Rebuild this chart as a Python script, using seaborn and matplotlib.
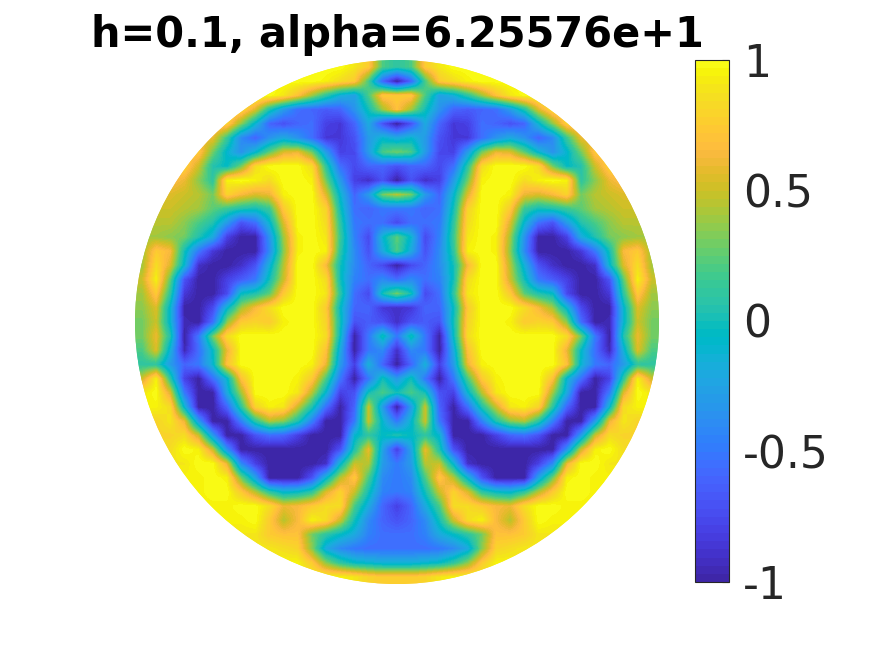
import numpy as np
import matplotlib
matplotlib.use("Agg")
import matplotlib.pyplot as plt
from matplotlib.colors import ListedColormap
from matplotlib.patches import Circle
import seaborn as sns

TITLE = "h=0.1, alpha=6.25576e+1"
CBAR_TICKS = [-1, -0.5, 0, 0.5, 1]
CBAR_LABELS = ["-1", "-0.5", "0", "0.5", "1"]

PARULA = [
[0.2422,0.1504,0.6603],[0.2504,0.1650,0.7076],[0.2578,0.1818,0.7511],[0.2647,0.1978,0.7952],
[0.2706,0.2147,0.8364],[0.2751,0.2342,0.8710],[0.2783,0.2559,0.8991],[0.2803,0.2782,0.9221],
[0.2813,0.3006,0.9414],[0.2810,0.3228,0.9579],[0.2795,0.3447,0.9717],[0.2760,0.3667,0.9829],
[0.2699,0.3892,0.9906],[0.2602,0.4123,0.9952],[0.2440,0.4358,0.9988],[0.2206,0.4603,0.9973],
[0.1963,0.4847,0.9892],[0.1834,0.5074,0.9798],[0.1786,0.5289,0.9682],[0.1764,0.5499,0.9520],
[0.1687,0.5703,0.9359],[0.1540,0.5902,0.9218],[0.1460,0.6091,0.9079],[0.1380,0.6276,0.8973],
[0.1248,0.6459,0.8883],[0.1113,0.6635,0.8763],[0.0952,0.6798,0.8598],[0.0689,0.6948,0.8394],
[0.0297,0.7082,0.8163],[0.0036,0.7203,0.7917],[0.0067,0.7312,0.7660],[0.0433,0.7411,0.7394],
[0.0964,0.7500,0.7120],[0.1408,0.7584,0.6842],[0.1717,0.7670,0.6554],[0.1938,0.7758,0.6251],
[0.2161,0.7843,0.5923],[0.2470,0.7918,0.5567],[0.2906,0.7973,0.5188],[0.3406,0.8008,0.4789],
[0.3909,0.8029,0.4354],[0.4456,0.8024,0.3909],[0.5044,0.7993,0.3480],[0.5616,0.7942,0.3045],
[0.6174,0.7876,0.2612],[0.6720,0.7793,0.2227],[0.7242,0.7698,0.1910],[0.7738,0.7598,0.1646],
[0.8203,0.7498,0.1535],[0.8634,0.7406,0.1596],[0.9035,0.7330,0.1774],[0.9393,0.7288,0.2100],
[0.9728,0.7298,0.2394],[0.9956,0.7434,0.2371],[0.9970,0.7659,0.2199],[0.9952,0.7861,0.1991],
[0.9892,0.8086,0.1816],[0.9786,0.8303,0.1655],[0.9676,0.8528,0.1490],[0.9610,0.8742,0.1291],
[0.9597,0.8986,0.1007],[0.9628,0.9265,0.0674],[0.9691,0.9555,0.0428],[0.9769,0.9839,0.0805]]

# left half of the disk, values read row by row (top to bottom); last column is the axis of symmetry
LEFT_HALF = [
[1,1,1,1,1,1,1,1,1,1,1,1,1,1,1,.9,.75,.2,.1],
[1,1,1,1,1,1,1,1,1,1,1,1,1,.95,.85,.75,.2,-.6,-1],
[1,1,1,1,1,1,1,1,1,1,.9,.7,.4,.1,-.15,-.25,.2,.75,.75],
[.85,.85,.85,.85,.85,.85,.85,.85,.55,.05,-.3,-.55,-.6,-.65,-.6,-.35,0,.4,.7],
[.8,.8,.8,.8,.8,.8,.8,.35,-.1,-.6,-.7,-.6,-.55,-.8,-.85,-.6,-.2,-.7,-1],
[.6,.6,.6,.6,.6,.6,.15,-.4,-.6,-.35,-.2,-.35,-.55,-.85,-.85,-.7,-.3,-.1,-.2],
[.75,.75,.75,.75,.75,.3,-.1,-.35,-.1,.25,.55,.6,.3,-.3,-.8,-.75,-.3,.2,.3],
[.8,.8,.8,.8,.5,.05,-.05,.3,.85,1,1,1,.85,.1,-.55,-.75,-.6,-.6,-.7],
[.7,.7,.7,.6,.35,.1,.95,1,.95,.85,1,1,.95,.3,-.3,-.8,-.9,-.7,-1],
[.55,.55,.55,.5,.45,.3,.8,.65,.55,.6,.95,1,1,.55,-.1,-.6,-.3,.3,.45],
[.5,.5,.5,.45,.4,.25,.15,.05,0,.15,.75,1,1,.8,0,-.55,-.6,-.5,-.5],
[.45,.45,.45,.35,.2,.05,-.3,-.7,-.55,-.1,.55,1,1,.85,.1,-.5,-.55,-.55,-.75],
[.4,.4,.35,.3,.05,-.2,-.8,-1,-1,-.35,.4,.95,1,.9,.15,-.45,-.75,-.1,.25],
[.4,.75,.65,0,-.5,-.85,-1,-1,-1,-.4,.35,.95,1,.95,.1,-.4,-.7,-.2,.2],
[.4,.85,.55,-.1,-.9,-1,-1,-.9,-.7,-.15,.45,1,1,.65,0,-.4,-.6,-.75,-1],
[.5,.95,.25,-.7,-1,-1,-.8,-.65,-.5,0,.5,1,1,.85,0,-.45,-.55,-.4,-.55],
[.4,.75,.1,-.85,-1,-1,-.75,-.05,.05,.25,.75,1,1,.9,.1,-.55,-.75,0,.3],
[.35,.55,-.1,-1,-1,-.75,-.1,.4,.65,.85,1,1,1,.75,-.05,-.6,-.6,-.85,-.9],
[.3,.5,-.1,-.95,-1,-.55,.35,.75,.8,.75,.95,1,1,.8,0,-.7,-.65,-.7,-.9],
[.3,.6,.05,-1,-.5,.3,.85,1,1,1,1,.97,1,.85,-.05,-1,-.5,0,-.5],
[.2,.55,-.15,-.95,-.55,-.05,.6,1,1,1,1,1,1,.7,-.2,-1,-.5,-.4,-.9],
[.1,.1,-.3,-.6,-.5,-.1,.7,1,1,1,1,1,.95,.6,-.3,-.8,-.15,-.6,-1],
[.5,.95,.1,-.8,-1,-.55,-.1,.7,1,1,1,.95,.75,.2,-.5,-1,-.5,0,-.3],
[.9,1,.55,-.5,-1,-1,-.2,.4,1,1,1,.9,.45,-.1,-.8,-.7,0,.2,0],
[.95,.95,.85,-.1,-1,-1,-.6,.1,.8,.95,.9,.5,.05,-.55,-1,-.6,.5,-.3,-1],
[.8,.8,.9,.6,-.3,-1,-1,-.45,.1,.45,.35,.05,-.45,-1,-1,-.5,.5,-.1,-.5],
[.8,.8,.8,.85,.5,-.3,-1,-1,-.7,-.55,-.6,-.8,-1,-1,-1,-.1,.1,-.05,.05],
[.85,.85,.85,1,.95,.5,-.35,-1,-1,-1,-1,-1,-1,-1,-.7,.05,.6,-.25,-.8],
[.9,.9,.9,.9,1,1,.6,-.4,-.8,-1,-1,-1,-1,-.9,-.1,.5,.45,-.3,-.5],
[.95,.95,.95,.95,.95,1,.95,.3,-.25,-1,-1,-1,-.7,-.1,.45,.75,.2,-.4,-.5],
[.95,.95,.95,.95,.95,1,1,.75,.45,.1,-.1,-.05,.1,.55,.8,.5,0,-.45,-.5],
[.95,.95,.95,.95,.95,.95,.95,1,1,.85,.6,.65,.75,.85,.85,.2,-.2,-.6,-.8],
[.95,.95,.95,.95,.95,.95,.95,.95,1,.75,.45,.65,.95,.85,.5,0,-.4,-.6,-.7],
[.9,.9,.9,.9,.9,.9,.9,.9,.9,.75,.7,.7,.3,.1,-.05,-.2,-.45,-.55,-.55],
[.9,.9,.9,.9,.9,.9,.9,.9,.9,.9,.85,.8,.35,-.2,-.4,-.5,-.55,-.55,-.55],
[.95,.95,.95,.95,.95,.95,.95,.95,.95,.95,.95,.95,.75,.35,.1,-.05,-.1,-.15,-.15],
[.95,.95,.95,.95,.95,.95,.95,.95,.95,.95,.95,.95,.95,.95,.95,.9,.8,.75,.75],
]

half = np.array(LEFT_HALF, dtype=float)
field = np.hstack([half, half[:, -2::-1]])
n_rows, n_cols = field.shape

sns.set_theme(style="white")
plt.rcParams["font.family"] = ["DejaVu Sans"]
W, H = 875, 656
fig = plt.figure(figsize=(W / 100, H / 100), dpi=100)
ax = fig.add_axes([135 / W, 1 - 584 / H, 524 / W, 524 / H])
cax = fig.add_axes([695 / W, 1 - 582 / H, 34 / W, 522 / H])

cmap = ListedColormap(PARULA, name="parula")
sns.heatmap(field, ax=ax, cbar_ax=cax, cmap=cmap, vmin=-1, vmax=1,
            xticklabels=False, yticklabels=False, cbar_kws={"ticks": CBAR_TICKS})

disk = Circle((n_cols / 2, n_rows / 2), n_cols / 2, transform=ax.transData,
              facecolor="none", edgecolor="none")
ax.add_patch(disk)
ax.collections[0].set_clip_path(disk)
im = ax.imshow(field, cmap=cmap, vmin=-1, vmax=1, interpolation="bilinear",
               extent=(0, n_cols, n_rows, 0), aspect="auto", zorder=2)
im.set_clip_path(disk)
ax.set_xlim(0, n_cols)
ax.set_ylim(n_rows, 0)
for s in ax.spines.values():
    s.set_visible(False)

fig.text(397 / W, 1 - 47 / H, TITLE, ha="center", va="baseline",
         fontsize=29.9, fontweight="bold", color="black")

cax.set_yticks(CBAR_TICKS)
cax.set_yticklabels(CBAR_LABELS)
cax.tick_params(axis="y", direction="in", length=5, width=0.8, color="#262626",
                labelsize=31.7, labelcolor="#262626", pad=10, right=True, left=False)
cb = ax.collections[0].colorbar
cb.outline.set_visible(True)
cb.outline.set_edgecolor("#262626")
cb.outline.set_linewidth(0.8)

fig.savefig("out.png", dpi=100)
